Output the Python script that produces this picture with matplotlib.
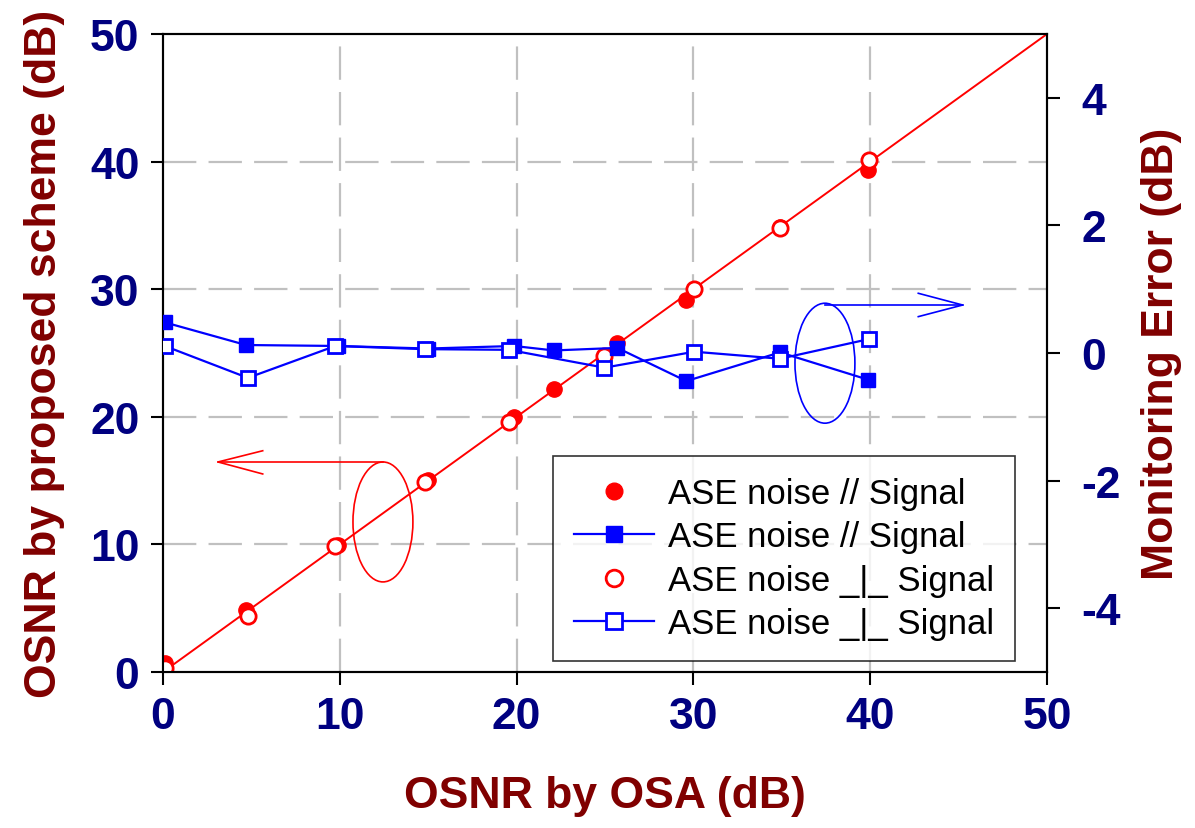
import matplotlib
matplotlib.use("Agg")
import matplotlib.pyplot as plt
from matplotlib.patches import Ellipse
from matplotlib.lines import Line2D

plt.rcParams['font.family'] = ['Liberation Sans', 'DejaVu Sans']

# OSNR measured by OSA (dB) and by the proposed scheme, ASE noise parallel to signal
osa_par = [0.1, 4.7, 9.9, 15.0, 19.85, 22.1, 25.7, 29.6, 34.9, 39.9]
osnr_par = [0.68, 4.86, 9.98, 15.07, 19.95, 22.15, 25.75, 29.15, 34.9, 39.34]
err_par = [0.48, 0.125, 0.11, 0.07, 0.11, 0.04, 0.08, -0.44, 0.01, -0.42]

# ASE noise orthogonal to signal
osa_orth = [0.1, 4.8, 9.75, 14.8, 19.55, 24.97, 30.05, 34.9, 39.96]
osnr_orth = [0.29, 4.41, 9.85, 14.9, 19.56, 24.74, 30.04, 34.8, 40.1]
err_orth = [0.11, -0.39, 0.11, 0.06, 0.05, -0.23, 0.02, -0.09, 0.22]

# ideal y = x reference line
ref_x = [0, 50]
ref_y = [0, 50]

navy = '#000080'
maroon = '#800000'

fig = plt.figure(figsize=(11.95, 8.29), dpi=100)
ax = fig.add_axes([163 / 1195, 1 - 673 / 829, 884 / 1195, 638 / 829])
ax2 = ax.twinx()

ax.set_xlim(0, 50)
ax.set_ylim(0, 50)
ax2.set_ylim(-5, 5)
ax.set_xticks([0, 10, 20, 30, 40, 50])
ax.set_yticks([0, 10, 20, 30, 40, 50])
ax2.set_yticks([-4, -2, 0, 2, 4])

# grille en tirets gris
for v in [10, 20, 30, 40]:
    ax.axvline(v, color='#c0c0c0', lw=1.6, dashes=(15, 5.5), zorder=0)
    ax.axhline(v, color='#c0c0c0', lw=1.6, dashes=(15, 5.5), zorder=0)

ax.plot(ref_x, ref_y, color='red', lw=1.4, zorder=2)
ax.plot(osa_par, osnr_par, 'o', color='red', ms=11, zorder=3)
ax.plot(osa_orth, osnr_orth, 'o', mfc='white', mec='red', mew=2, ms=11, zorder=4)

ax2.plot(osa_par, err_par, '-s', color='blue', lw=1.6, ms=10, zorder=3)
ax2.plot(osa_orth, err_orth, '-s', color='blue', mfc='white', mec='blue',
         mew=2, lw=1.6, ms=10, zorder=4)

# flèches + ellipses indiquant l'axe de chaque série
ax.add_patch(Ellipse((12.44, 11.76), 3.39, 9.4, fill=False, ec='red', lw=1.2))
ax.plot([12.44, 3.11], [16.46, 16.46], color='red', lw=1.2)
ax.plot([5.64, 3.11, 5.64], [17.34, 16.46, 15.52], color='red', lw=1.2)

ax.add_patch(Ellipse((37.44, 24.2), 3.39, 9.4, fill=False, ec='blue', lw=1.2, zorder=5))
ax.plot([37.44, 45.23], [28.76, 28.76], color='blue', lw=1.2, zorder=5)
ax.plot([42.72, 45.23, 42.72], [29.68, 28.76, 27.85], color='blue', lw=1.2, zorder=5)

for a in (ax, ax2):
    for s in a.spines.values():
        s.set_linewidth(1.5)
ax.tick_params(axis='both', direction='out', length=9, width=1.5,
               labelsize=32, labelcolor=navy, pad=8)
ax2.tick_params(axis='y', direction='out', length=9, width=1.5,
                labelsize=32, labelcolor=navy, pad=16)
for lab in ax.get_xticklabels() + ax.get_yticklabels() + ax2.get_yticklabels():
    lab.set_fontweight('bold')
ax2.set_yticklabels(['-4', '-2', '0', '2', '4'])

ax.set_xlabel('OSNR by OSA (dB)', fontsize=32, fontweight='bold', color=maroon, labelpad=28)
ax.set_ylabel('OSNR by proposed scheme (dB)', fontsize=32, fontweight='bold', color=maroon, labelpad=18)
ax2.set_ylabel('Monitoring Error (dB)', fontsize=32, fontweight='bold', color=maroon, labelpad=14)

handles = [
    Line2D([], [], ls='none', marker='o', color='red', ms=12),
    Line2D([], [], ls='-', marker='s', color='blue', lw=1.6, ms=11),
    Line2D([], [], ls='none', marker='o', mfc='white', mec='red', mew=2, ms=12),
    Line2D([], [], ls='-', marker='s', color='blue', mfc='white', mew=2, lw=1.6, ms=11),
]
labels = ['ASE noise // Signal', 'ASE noise // Signal',
          'ASE noise _|_ Signal', 'ASE noise _|_ Signal']
leg = ax2.legend(handles, labels, loc='upper left', bbox_to_anchor=(553 / 1195, 1 - 457 / 829),
                 bbox_transform=fig.transFigure, fontsize=25, frameon=True, fancybox=False,
                 edgecolor='black', handlelength=2.3, handletextpad=0.4, labelspacing=0.3,
                 borderpad=0.6, borderaxespad=0)
leg.get_frame().set_linewidth(1.2)

fig.savefig('out.png', dpi=100)
